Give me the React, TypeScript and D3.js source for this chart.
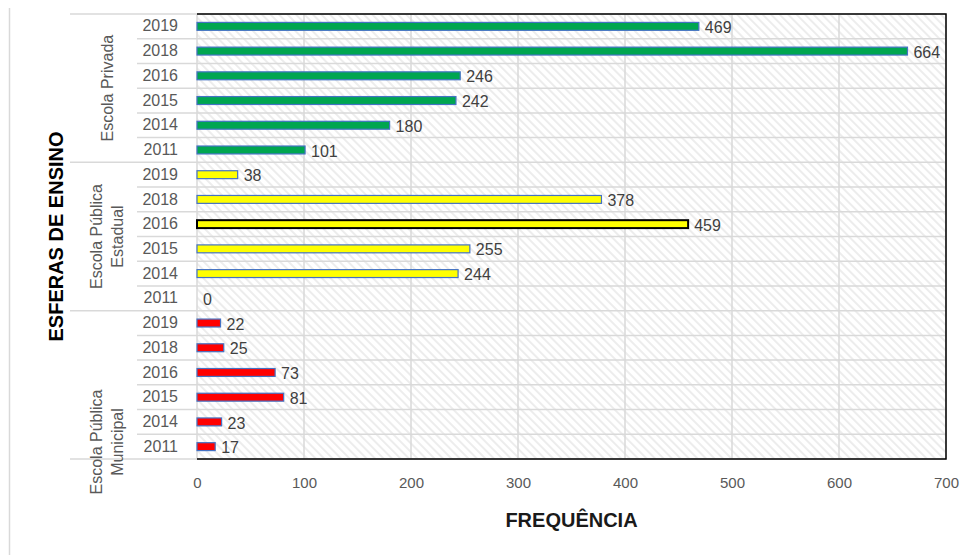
import React, { useRef, useEffect } from "react";
import * as d3 from "d3";

// categories
const groups = ["Escola Privada", "Escola Pública Estadual", "Escola Pública Municipal"];
const groupLabelLines = [["Escola Privada"], ["Escola Pública", "Estadual"], ["Escola Pública", "Municipal"]];
const years = ["2019", "2018", "2016", "2015", "2014", "2011"];

// values per group, in the order of years
const privada = [469, 664, 246, 242, 180, 101];
const estadual = [38, 378, 459, 255, 244, 0];
const municipal = [22, 25, 73, 81, 23, 17];

const xTicks = [0, 100, 200, 300, 400, 500, 600, 700];

type Row = { key: string; group: number; year: string; value: number };

const W = 975;
const H = 555;
const FONT = "'Liberation Sans', Arial, sans-serif";

export default function App() {
    const svgRef = useRef<SVGSVGElement | null>(null);

    useEffect(() => {
        if (!svgRef.current) return;
        const svg = d3.select(svgRef.current);
        svg.selectAll("*").remove();

        const margin = { top: 14, right: 29, bottom: 96, left: 197 };
        const values = [privada, estadual, municipal];
        const rows: Row[] = [];
        values.forEach((vals, g) =>
            vals.forEach((v, i) => rows.push({ key: `${g}-${years[i]}`, group: g, year: years[i], value: v })),
        );

        const x = d3.scaleLinear().domain([0, 700]).range([margin.left, W - margin.right]);
        const y = d3
            .scaleBand<string>()
            .domain(rows.map((r) => r.key))
            .range([margin.top, H - margin.bottom]);
        const bw = y.bandwidth();
        const barH = bw * 0.32;

        const fills = ["#00A650", "#FFFF00", "#FF0000"];

        // hatch pattern for the plot area
        const defs = svg.append("defs");
        const pat = defs
            .append("pattern")
            .attr("id", "hatch")
            .attr("width", 6)
            .attr("height", 6)
            .attr("patternUnits", "userSpaceOnUse")
            .attr("patternTransform", "rotate(-45)");
        pat.append("rect").attr("width", 6).attr("height", 6).attr("fill", "#ffffff");
        pat.append("line").attr("x1", 1).attr("y1", 0).attr("x2", 1).attr("y2", 6)
            .attr("stroke", "#dedede").attr("stroke-width", 1.1);

        svg.append("rect").attr("width", W).attr("height", H).attr("fill", "#ffffff");

        // chart area left edge
        svg.append("line").attr("x1", 9.5).attr("x2", 9.5).attr("y1", 8).attr("y2", H)
            .attr("stroke", "#d9d9d9").attr("stroke-width", 1.5);

        const x0 = x(0), x1 = x(700), yTop = margin.top, yBot = H - margin.bottom;

        svg.append("rect")
            .attr("x", x0).attr("y", yTop)
            .attr("width", x1 - x0).attr("height", yBot - yTop)
            .attr("fill", "url(#hatch)");

        // grid
        svg.append("g").selectAll("line").data(xTicks).join("line")
            .attr("x1", (d) => x(d)).attr("x2", (d) => x(d))
            .attr("y1", yTop).attr("y2", yBot)
            .attr("stroke", "#d9d9d9").attr("stroke-width", 1.5);

        const bounds = rows.map((r) => y(r.key) as number).concat([yBot]);
        svg.append("g").selectAll("line").data(bounds).join("line")
            .attr("x1", (d, i) => (i % 6 === 0 ? 70 : 137)).attr("x2", x1)
            .attr("y1", (d) => d).attr("y2", (d) => d)
            .attr("stroke", "#d9d9d9").attr("stroke-width", 1.5);

        // plot border (top, right, bottom)
        svg.append("path")
            .attr("d", `M${x0},${yTop}H${x1}V${yBot}H${x0}`)
            .attr("fill", "none").attr("stroke", "#000").attr("stroke-width", 1.5);

        // bars
        svg.append("g").selectAll("rect").data(rows).join("rect")
            .attr("x", x0)
            .attr("y", (d) => (y(d.key) as number) + bw / 2 - barH / 2)
            .attr("width", (d) => x(d.value) - x0)
            .attr("height", barH)
            .attr("fill", (d) => fills[d.group])
            .attr("stroke", (d) => (d.group === 1 && d.year === "2016" ? "#000" : "#4472C4"))
            .attr("stroke-width", (d) => (d.group === 1 && d.year === "2016" ? 2 : 1.2))
            .style("display", (d) => (d.value === 0 ? "none" : null));

        // data labels
        svg.append("g").selectAll("text").data(rows).join("text")
            .attr("x", (d) => x(d.value) + 6)
            .attr("y", (d) => (y(d.key) as number) + bw / 2 + 1)
            .attr("dy", "0.35em")
            .attr("font-family", FONT).attr("font-size", 16)
            .attr("fill", "#404040")
            .text((d) => d.value);

        // x axis ticks
        const xAxis = svg.append("g")
            .attr("transform", `translate(0,${yBot})`)
            .call(d3.axisBottom(x).tickValues(xTicks).tickSize(0).tickPadding(18));
        xAxis.select(".domain").remove();
        xAxis.selectAll("text").attr("font-family", FONT).attr("font-size", 15).attr("fill", "#595959");

        // year labels
        const yAxis = svg.append("g")
            .attr("transform", `translate(${x0},0)`)
            .call(d3.axisLeft(y).tickSize(0).tickPadding(19).tickFormat((k) => k.split("-")[1]));
        yAxis.select(".domain").remove();
        yAxis.selectAll("text").attr("font-family", FONT).attr("font-size", 16).attr("fill", "#595959");

        // group labels, rotated
        groups.forEach((g, gi) => {
            const gRows = rows.filter((r) => r.group === gi);
            const top = y(gRows[0].key) as number;
            const bottom = (y(gRows[gRows.length - 1].key) as number) + bw;
            const cy = gi === 2 ? bottom - 17 : (top + bottom) / 2;
            const lines = groupLabelLines[gi];
            const cx = lines.length === 1 ? 108 : 97;
            const t = svg.append("text")
                .attr("transform", `translate(${cx},${cy}) rotate(-90)`)
                .attr("text-anchor", "middle")
                .attr("font-family", FONT).attr("font-size", 16)
                .attr("fill", "#595959");
            lines.forEach((ln, li) => {
                t.append("tspan").attr("x", 0).attr("y", li * 21 + 5).text(ln);
            });
        });

        // axis titles
        svg.append("text")
            .attr("x", (x0 + x1) / 2).attr("y", 527)
            .attr("text-anchor", "middle")
            .attr("font-family", FONT).attr("font-size", 20).attr("font-weight", "bold")
            .attr("fill", "#1a1a1a")
            .text("FREQUÊNCIA");

        svg.append("text")
            .attr("transform", `translate(63,${(yTop + yBot) / 2}) rotate(-90)`)
            .attr("text-anchor", "middle")
            .attr("font-family", FONT).attr("font-size", 20).attr("font-weight", "bold")
            .attr("fill", "#000")
            .text("ESFERAS DE ENSINO");
    }, []);

    return (
        <svg
            ref={svgRef}
            width={W}
            height={H}
            style={{ position: "absolute", left: 0, top: 0, display: "block" }}
        ></svg>
    );
}
